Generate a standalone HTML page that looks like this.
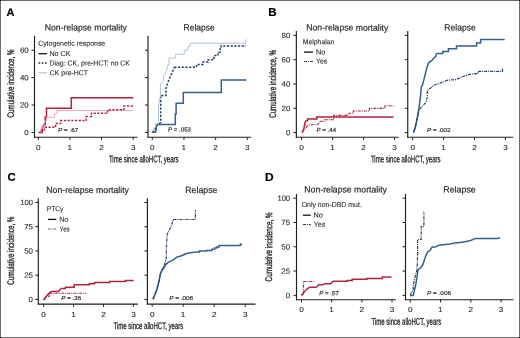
<!DOCTYPE html>
<html><head><meta charset="utf-8"><style>html,body{margin:0;padding:0;background:#fff;width:520px;height:338px;overflow:hidden}svg{display:block;font-family:"Liberation Sans",sans-serif;will-change:transform}</style></head>
<body><svg width="520" height="338" viewBox="0 0 520 338" font-family="'Liberation Sans', sans-serif">
<rect x="0" y="0" width="520" height="338" fill="#fff"/>
<line x1="34.50" y1="35.70" x2="34.50" y2="137.70" stroke="#1e1e1e" stroke-width="1.15" />
<line x1="34.00" y1="137.20" x2="137.40" y2="137.20" stroke="#1e1e1e" stroke-width="1.1" />
<line x1="31.50" y1="132.40" x2="34.50" y2="132.40" stroke="#1e1e1e" stroke-width="1.0" />
<line x1="31.50" y1="105.00" x2="34.50" y2="105.00" stroke="#1e1e1e" stroke-width="1.0" />
<line x1="31.50" y1="77.60" x2="34.50" y2="77.60" stroke="#1e1e1e" stroke-width="1.0" />
<line x1="31.50" y1="50.20" x2="34.50" y2="50.20" stroke="#1e1e1e" stroke-width="1.0" />
<line x1="38.30" y1="137.20" x2="38.30" y2="139.90" stroke="#1e1e1e" stroke-width="1.0" />
<line x1="69.95" y1="137.20" x2="69.95" y2="139.90" stroke="#1e1e1e" stroke-width="1.0" />
<line x1="101.60" y1="137.20" x2="101.60" y2="139.90" stroke="#1e1e1e" stroke-width="1.0" />
<line x1="133.25" y1="137.20" x2="133.25" y2="139.90" stroke="#1e1e1e" stroke-width="1.0" />
<line x1="148.00" y1="35.70" x2="148.00" y2="137.70" stroke="#1e1e1e" stroke-width="1.15" />
<line x1="147.50" y1="137.20" x2="251.00" y2="137.20" stroke="#1e1e1e" stroke-width="1.1" />
<line x1="145.00" y1="132.40" x2="148.00" y2="132.40" stroke="#1e1e1e" stroke-width="1.0" />
<line x1="145.00" y1="105.00" x2="148.00" y2="105.00" stroke="#1e1e1e" stroke-width="1.0" />
<line x1="145.00" y1="77.60" x2="148.00" y2="77.60" stroke="#1e1e1e" stroke-width="1.0" />
<line x1="145.00" y1="50.20" x2="148.00" y2="50.20" stroke="#1e1e1e" stroke-width="1.0" />
<line x1="152.30" y1="137.20" x2="152.30" y2="139.90" stroke="#1e1e1e" stroke-width="1.0" />
<line x1="183.97" y1="137.20" x2="183.97" y2="139.90" stroke="#1e1e1e" stroke-width="1.0" />
<line x1="215.64" y1="137.20" x2="215.64" y2="139.90" stroke="#1e1e1e" stroke-width="1.0" />
<line x1="247.31" y1="137.20" x2="247.31" y2="139.90" stroke="#1e1e1e" stroke-width="1.0" />
<line x1="296.35" y1="31.10" x2="296.35" y2="137.80" stroke="#1e1e1e" stroke-width="1.15" />
<line x1="295.85" y1="137.30" x2="398.60" y2="137.30" stroke="#1e1e1e" stroke-width="1.1" />
<line x1="293.35" y1="132.60" x2="296.35" y2="132.60" stroke="#1e1e1e" stroke-width="1.0" />
<line x1="293.35" y1="108.30" x2="296.35" y2="108.30" stroke="#1e1e1e" stroke-width="1.0" />
<line x1="293.35" y1="84.00" x2="296.35" y2="84.00" stroke="#1e1e1e" stroke-width="1.0" />
<line x1="293.35" y1="59.70" x2="296.35" y2="59.70" stroke="#1e1e1e" stroke-width="1.0" />
<line x1="293.35" y1="35.40" x2="296.35" y2="35.40" stroke="#1e1e1e" stroke-width="1.0" />
<line x1="301.60" y1="137.30" x2="301.60" y2="140.00" stroke="#1e1e1e" stroke-width="1.0" />
<line x1="332.60" y1="137.30" x2="332.60" y2="140.00" stroke="#1e1e1e" stroke-width="1.0" />
<line x1="363.60" y1="137.30" x2="363.60" y2="140.00" stroke="#1e1e1e" stroke-width="1.0" />
<line x1="394.60" y1="137.30" x2="394.60" y2="140.00" stroke="#1e1e1e" stroke-width="1.0" />
<line x1="407.75" y1="31.10" x2="407.75" y2="137.80" stroke="#1e1e1e" stroke-width="1.15" />
<line x1="407.25" y1="137.30" x2="513.20" y2="137.30" stroke="#1e1e1e" stroke-width="1.1" />
<line x1="404.75" y1="132.60" x2="407.75" y2="132.60" stroke="#1e1e1e" stroke-width="1.0" />
<line x1="404.75" y1="108.30" x2="407.75" y2="108.30" stroke="#1e1e1e" stroke-width="1.0" />
<line x1="404.75" y1="84.00" x2="407.75" y2="84.00" stroke="#1e1e1e" stroke-width="1.0" />
<line x1="404.75" y1="59.70" x2="407.75" y2="59.70" stroke="#1e1e1e" stroke-width="1.0" />
<line x1="404.75" y1="35.40" x2="407.75" y2="35.40" stroke="#1e1e1e" stroke-width="1.0" />
<line x1="412.70" y1="137.30" x2="412.70" y2="140.00" stroke="#1e1e1e" stroke-width="1.0" />
<line x1="443.60" y1="137.30" x2="443.60" y2="140.00" stroke="#1e1e1e" stroke-width="1.0" />
<line x1="474.50" y1="137.30" x2="474.50" y2="140.00" stroke="#1e1e1e" stroke-width="1.0" />
<line x1="505.40" y1="137.30" x2="505.40" y2="140.00" stroke="#1e1e1e" stroke-width="1.0" />
<line x1="38.30" y1="198.20" x2="38.30" y2="304.60" stroke="#1e1e1e" stroke-width="1.15" />
<line x1="37.80" y1="304.10" x2="137.90" y2="304.10" stroke="#1e1e1e" stroke-width="1.1" />
<line x1="35.30" y1="299.40" x2="38.30" y2="299.40" stroke="#1e1e1e" stroke-width="1.0" />
<line x1="35.30" y1="275.17" x2="38.30" y2="275.17" stroke="#1e1e1e" stroke-width="1.0" />
<line x1="35.30" y1="250.95" x2="38.30" y2="250.95" stroke="#1e1e1e" stroke-width="1.0" />
<line x1="35.30" y1="226.72" x2="38.30" y2="226.72" stroke="#1e1e1e" stroke-width="1.0" />
<line x1="35.30" y1="202.50" x2="38.30" y2="202.50" stroke="#1e1e1e" stroke-width="1.0" />
<line x1="43.60" y1="304.10" x2="43.60" y2="306.80" stroke="#1e1e1e" stroke-width="1.0" />
<line x1="73.55" y1="304.10" x2="73.55" y2="306.80" stroke="#1e1e1e" stroke-width="1.0" />
<line x1="103.50" y1="304.10" x2="103.50" y2="306.80" stroke="#1e1e1e" stroke-width="1.0" />
<line x1="133.45" y1="304.10" x2="133.45" y2="306.80" stroke="#1e1e1e" stroke-width="1.0" />
<line x1="147.40" y1="198.20" x2="147.40" y2="304.60" stroke="#1e1e1e" stroke-width="1.15" />
<line x1="146.90" y1="304.10" x2="255.50" y2="304.10" stroke="#1e1e1e" stroke-width="1.1" />
<line x1="144.40" y1="299.40" x2="147.40" y2="299.40" stroke="#1e1e1e" stroke-width="1.0" />
<line x1="144.40" y1="275.17" x2="147.40" y2="275.17" stroke="#1e1e1e" stroke-width="1.0" />
<line x1="144.40" y1="250.95" x2="147.40" y2="250.95" stroke="#1e1e1e" stroke-width="1.0" />
<line x1="144.40" y1="226.72" x2="147.40" y2="226.72" stroke="#1e1e1e" stroke-width="1.0" />
<line x1="144.40" y1="202.50" x2="147.40" y2="202.50" stroke="#1e1e1e" stroke-width="1.0" />
<line x1="152.20" y1="304.10" x2="152.20" y2="306.80" stroke="#1e1e1e" stroke-width="1.0" />
<line x1="183.20" y1="304.10" x2="183.20" y2="306.80" stroke="#1e1e1e" stroke-width="1.0" />
<line x1="214.20" y1="304.10" x2="214.20" y2="306.80" stroke="#1e1e1e" stroke-width="1.0" />
<line x1="245.20" y1="304.10" x2="245.20" y2="306.80" stroke="#1e1e1e" stroke-width="1.0" />
<line x1="296.50" y1="193.90" x2="296.50" y2="300.20" stroke="#1e1e1e" stroke-width="1.15" />
<line x1="296.00" y1="299.70" x2="395.70" y2="299.70" stroke="#1e1e1e" stroke-width="1.1" />
<line x1="293.50" y1="295.35" x2="296.50" y2="295.35" stroke="#1e1e1e" stroke-width="1.0" />
<line x1="293.50" y1="271.06" x2="296.50" y2="271.06" stroke="#1e1e1e" stroke-width="1.0" />
<line x1="293.50" y1="246.78" x2="296.50" y2="246.78" stroke="#1e1e1e" stroke-width="1.0" />
<line x1="293.50" y1="222.49" x2="296.50" y2="222.49" stroke="#1e1e1e" stroke-width="1.0" />
<line x1="293.50" y1="198.20" x2="296.50" y2="198.20" stroke="#1e1e1e" stroke-width="1.0" />
<line x1="301.50" y1="299.70" x2="301.50" y2="302.40" stroke="#1e1e1e" stroke-width="1.0" />
<line x1="331.67" y1="299.70" x2="331.67" y2="302.40" stroke="#1e1e1e" stroke-width="1.0" />
<line x1="361.84" y1="299.70" x2="361.84" y2="302.40" stroke="#1e1e1e" stroke-width="1.0" />
<line x1="392.01" y1="299.70" x2="392.01" y2="302.40" stroke="#1e1e1e" stroke-width="1.0" />
<line x1="405.50" y1="193.90" x2="405.50" y2="300.20" stroke="#1e1e1e" stroke-width="1.15" />
<line x1="405.00" y1="299.70" x2="513.50" y2="299.70" stroke="#1e1e1e" stroke-width="1.1" />
<line x1="402.50" y1="295.35" x2="405.50" y2="295.35" stroke="#1e1e1e" stroke-width="1.0" />
<line x1="402.50" y1="271.06" x2="405.50" y2="271.06" stroke="#1e1e1e" stroke-width="1.0" />
<line x1="402.50" y1="246.78" x2="405.50" y2="246.78" stroke="#1e1e1e" stroke-width="1.0" />
<line x1="402.50" y1="222.49" x2="405.50" y2="222.49" stroke="#1e1e1e" stroke-width="1.0" />
<line x1="402.50" y1="198.20" x2="405.50" y2="198.20" stroke="#1e1e1e" stroke-width="1.0" />
<line x1="410.20" y1="299.70" x2="410.20" y2="302.40" stroke="#1e1e1e" stroke-width="1.0" />
<line x1="440.50" y1="299.70" x2="440.50" y2="302.40" stroke="#1e1e1e" stroke-width="1.0" />
<line x1="470.80" y1="299.70" x2="470.80" y2="302.40" stroke="#1e1e1e" stroke-width="1.0" />
<line x1="501.10" y1="299.70" x2="501.10" y2="302.40" stroke="#1e1e1e" stroke-width="1.0" />
<line x1="38.50" y1="53.70" x2="46.80" y2="53.70" stroke="#111" stroke-width="1.3" />
<line x1="38.60" y1="63.00" x2="46.60" y2="63.00" stroke="#222" stroke-width="1.3" stroke-dasharray="1.6 1.6"/>
<line x1="38.50" y1="72.80" x2="47.00" y2="72.80" stroke="#aaa" stroke-width="0.8" />
<line x1="304.00" y1="52.10" x2="313.00" y2="52.10" stroke="#111" stroke-width="1.3" />
<line x1="304.00" y1="61.60" x2="313.00" y2="61.60" stroke="#222" stroke-width="0.9" stroke-dasharray="3 1 1 1"/>
<line x1="48.00" y1="219.40" x2="56.30" y2="219.40" stroke="#111" stroke-width="1.3" />
<line x1="48.00" y1="229.00" x2="56.30" y2="229.00" stroke="#666" stroke-width="1.2" stroke-dasharray="2.6 0.9 1 0.9"/>
<line x1="303.00" y1="215.20" x2="310.80" y2="215.20" stroke="#111" stroke-width="1.3" />
<line x1="303.00" y1="224.50" x2="310.80" y2="224.50" stroke="#222" stroke-width="0.9" stroke-dasharray="3 1 1 1"/>
<path d="M38.8 132.4H42.4V127.0H43.5V124.5H45.2V117.0H46.5V108.2H71.3V97.8H133.3V97.8" fill="none" stroke="#b0223f" stroke-width="1.5" stroke-linejoin="miter" />
<path d="M38.8 132.4H41.5V128.0H43.0V124.0H44.5V121.0H46.5V117.3H54.5V113.8H56.8V110.6H133.3V110.6" fill="none" stroke="#eaa9bb" stroke-width="1.0" stroke-linejoin="miter" />
<path d="M38.8 132.4H41.5V130.0H44.5V127.3H55.5V123.4H60.6V120.5H86.2V116.6H91.5V113.2H107.7V109.8H123.8V105.9H133.3V105.9" fill="none" stroke="#b0223f" stroke-width="1.5" stroke-dasharray="2.2 1.5" stroke-linejoin="miter" />
<path d="M152.1 132.2H155.5V129.7H156.3V124.4H175.3V114.0H176.1V103.2H183.3V92.4H221.3V80.0H246.5V80.0" fill="none" stroke="#365f8b" stroke-width="1.5" stroke-linejoin="miter" />
<path d="M152.3 132.3 L155.0 128.5 L157.0 125.5 L158.5 124.0 L160.7 122.5 L160.7 95.4 L166.0 95.4 L166.0 88.0 L168.0 82.0 L169.3 79.0 L171.0 75.0 L173.0 70.6 L174.3 67.3 M174.3 67.3H196.5V64.6H203.0V62.1H208.0V59.7H214.0V55.5H218.0V52.2H220.0V48.9H221.0V45.9H246.0V45.9" fill="none" stroke="#253f66" stroke-width="1.5" stroke-dasharray="2.2 1.5" stroke-linejoin="miter" />
<path d="M152.3 132.3 L155.0 128.0 L157.0 124.0 L158.5 121.3 L158.5 106.0 L160.4 96.0 L160.4 83.3 L163.6 80.9 L163.6 76.0 L164.8 74.4 L166.6 70.2 L167.8 64.9 L169.0 64.9 L169.0 58.1 M169.0 58.1H175.7V54.3H184.2V50.9H186.3V49.4H188.0V46.5H190.1V43.2H245.7V39.5H246.2V39.5" fill="none" stroke="#a9bcd4" stroke-width="0.9" stroke-linejoin="miter" />
<path d="M302.0 132.5 L303.5 130.0 L305.0 123.0 L305.5 120.8 M305.5 120.8H307.5V119.0H316.8V117.0H393.6V117.0" fill="none" stroke="#b0223f" stroke-width="1.5" stroke-linejoin="miter" />
<path d="M302.0 132.5 L305.0 129.0 L307.0 126.5 L309.0 125.0 L310.6 124.8 L317.5 124.8 L320.2 121.3 M320.2 121.3H324.8V119.8H333.7V115.4H348.0V113.3H353.3V111.0H369.4V108.4H385.0V105.8H393.5V105.8" fill="none" stroke="#b0223f" stroke-width="1.1" stroke-dasharray="3 1 1 1" stroke-linejoin="miter" />
<path d="M413.6 132.5 L415.2 128.0 L417.2 118.3 L418.8 108.8 L420.4 97.6 L421.2 87.2 L422.4 85.2 L424.4 77.6 L426.8 68.0 L428.4 63.2 L430.0 61.6 L432.4 60.0 L434.0 57.6 L435.6 56.8 L436.4 53.6 M436.4 53.6H442.8V51.4H448.4V48.7H456.5V45.9H476.6V43.0H480.6V39.6H504.7V39.6" fill="none" stroke="#365f8b" stroke-width="1.5" stroke-linejoin="miter" />
<path d="M413.6 132.5 L416.0 124.0 L418.8 110.4 L422.0 106.5 L426.0 102.4 L427.3 97.0 L427.3 90.4 L429.2 89.2 L434.0 85.2 L442.0 82.4 L447.6 80.2 L456.4 79.6 L460.0 77.6 L465.0 75.8 L470.0 74.3 L474.4 73.6 M474.4 73.6H478.1V71.4H502.5V68.8H503.0V68.8" fill="none" stroke="#253f66" stroke-width="1.2" stroke-dasharray="3 1 1 1" stroke-linejoin="miter" />
<path d="M43.5 300.0 L47.7 294.6 L49.2 293.1 L51.2 291.5 L58.5 291.5 L60.8 288.6 M60.8 288.6H65.4V287.2H74.2V284.8H89.2V283.8H94.6V282.4H109.4V281.6H125.4V280.5H133.6V280.5" fill="none" stroke="#b0223f" stroke-width="1.5" stroke-linejoin="miter" />
<path d="M43.5 300.0 L46.0 297.0 L49.2 296.5 L49.2 293.2 M49.2 293.2H86.5V293.2" fill="none" stroke="#b0223f" stroke-width="1.1" stroke-dasharray="3 1 1 1" stroke-linejoin="miter" />
<path d="M153.0 299.2 L156.7 290.0 L158.9 281.8 L160.4 273.7 L161.8 270.7 L164.0 267.8 L165.5 264.8 L167.8 262.6 L170.7 261.1 L173.7 259.6 L177.4 256.7 L180.1 256.2 L185.0 254.2 L187.7 253.2 L192.0 252.6 L196.0 252.1 M196.0 252.1H199.5V251.0H206.4V250.4H212.1V249.3H214.5V248.1H216.8V247.0H219.0V245.5H240.4V244.3H242.1V244.3" fill="none" stroke="#365f8b" stroke-width="1.5" stroke-linejoin="miter" />
<path d="M153.0 299.2 L156.7 290.0 L158.9 281.8 L160.6 273.7 L162.8 268.0 L164.8 264.0 L166.3 258.0 L166.3 250.0 L166.8 240.0 L167.0 235.7 L168.5 231.0 L170.5 228.0 L171.5 225.0 L173.4 219.5 M173.4 219.5H195.4V210.3H195.6V210.3" fill="none" stroke="#253f66" stroke-width="1.2" stroke-dasharray="3 1 1 1" stroke-linejoin="miter" />
<path d="M301.5 295.2 L303.8 292.5 L305.7 290.2 L308.0 288.3 L309.5 287.2 L316.1 287.2 L318.8 284.8 L322.6 284.8 L324.5 283.7 L331.0 283.7 L332.6 281.3 M332.6 281.3H347.2V280.5H352.2V279.2H366.9V278.4H382.3V277.0H391.5V277.0" fill="none" stroke="#b0223f" stroke-width="1.5" stroke-linejoin="miter" />
<path d="M301.5 295.2 L303.4 293.7 M303.4 293.7H303.4V281.5H313.8V281.5" fill="none" stroke="#b0223f" stroke-width="1.1" stroke-dasharray="3 1 1 1" stroke-linejoin="miter" />
<path d="M410.0 295.4 L413.2 295.4 L414.3 291.0 L415.6 285.5 L417.2 276.0 L418.0 269.6 L420.4 268.0 L422.8 264.8 L424.4 260.0 L426.0 255.2 L427.6 252.0 L430.0 250.4 L432.0 247.3 L436.0 246.7 L439.0 245.2 L450.0 244.0 L455.0 243.0 L462.0 242.2 L470.0 240.7 L474.0 239.2 L475.0 238.5 L498.2 238.5 L500.0 237.3" fill="none" stroke="#365f8b" stroke-width="1.5" stroke-linejoin="miter" />
<path d="M410.2 295.2 L413.0 290.0 L414.0 281.1 L417.0 270.0 L417.6 255.0 M417.6 255.0H417.6V239.5H421.2V226.3H423.9V212.3H424.1V212.3" fill="none" stroke="#253f66" stroke-width="1.2" stroke-dasharray="3 1 1 1" stroke-linejoin="miter" />
<text transform="matrix(1.0400 0.0005 0 1 24.29 135.02)" font-size="7.6" fill="#2b2b2b" stroke="#2b2b2b" stroke-width="0.12">0</text>
<text transform="matrix(1.0400 0.0005 0 1 19.94 107.62)" font-size="7.6" fill="#2b2b2b" stroke="#2b2b2b" stroke-width="0.12">20</text>
<text transform="matrix(1.0400 0.0005 0 1 19.94 80.22)" font-size="7.6" fill="#2b2b2b" stroke="#2b2b2b" stroke-width="0.12">40</text>
<text transform="matrix(1.0400 0.0005 0 1 19.94 52.82)" font-size="7.6" fill="#2b2b2b" stroke="#2b2b2b" stroke-width="0.12">60</text>
<text transform="matrix(1.0800 0.0005 0 1 36.00 149.72)" font-size="7.6" fill="#2b2b2b" stroke="#2b2b2b" stroke-width="0.12">0</text>
<text transform="matrix(1.0800 0.0005 0 1 67.53 149.72)" font-size="7.6" fill="#2b2b2b" stroke="#2b2b2b" stroke-width="0.12">1</text>
<text transform="matrix(1.0800 0.0005 0 1 99.30 149.76)" font-size="7.6" fill="#2b2b2b" stroke="#2b2b2b" stroke-width="0.12">2</text>
<text transform="matrix(1.0800 0.0005 0 1 130.99 149.72)" font-size="7.6" fill="#2b2b2b" stroke="#2b2b2b" stroke-width="0.12">3</text>
<text transform="matrix(1.0800 0.0005 0 1 150.00 149.72)" font-size="7.6" fill="#2b2b2b" stroke="#2b2b2b" stroke-width="0.12">0</text>
<text transform="matrix(1.0800 0.0005 0 1 181.55 149.72)" font-size="7.6" fill="#2b2b2b" stroke="#2b2b2b" stroke-width="0.12">1</text>
<text transform="matrix(1.0800 0.0005 0 1 213.34 149.76)" font-size="7.6" fill="#2b2b2b" stroke="#2b2b2b" stroke-width="0.12">2</text>
<text transform="matrix(1.0800 0.0005 0 1 245.05 149.72)" font-size="7.6" fill="#2b2b2b" stroke="#2b2b2b" stroke-width="0.12">3</text>
<text transform="matrix(1.0400 0.0005 0 1 285.89 135.22)" font-size="7.6" fill="#2b2b2b" stroke="#2b2b2b" stroke-width="0.12">0</text>
<text transform="matrix(1.0400 0.0005 0 1 281.54 110.92)" font-size="7.6" fill="#2b2b2b" stroke="#2b2b2b" stroke-width="0.12">20</text>
<text transform="matrix(1.0400 0.0005 0 1 281.54 86.62)" font-size="7.6" fill="#2b2b2b" stroke="#2b2b2b" stroke-width="0.12">40</text>
<text transform="matrix(1.0400 0.0005 0 1 281.54 62.32)" font-size="7.6" fill="#2b2b2b" stroke="#2b2b2b" stroke-width="0.12">60</text>
<text transform="matrix(1.0400 0.0005 0 1 281.54 38.02)" font-size="7.6" fill="#2b2b2b" stroke="#2b2b2b" stroke-width="0.12">80</text>
<text transform="matrix(1.0800 0.0005 0 1 299.30 149.82)" font-size="7.6" fill="#2b2b2b" stroke="#2b2b2b" stroke-width="0.12">0</text>
<text transform="matrix(1.0800 0.0005 0 1 330.18 149.82)" font-size="7.6" fill="#2b2b2b" stroke="#2b2b2b" stroke-width="0.12">1</text>
<text transform="matrix(1.0800 0.0005 0 1 361.30 149.86)" font-size="7.6" fill="#2b2b2b" stroke="#2b2b2b" stroke-width="0.12">2</text>
<text transform="matrix(1.0800 0.0005 0 1 392.34 149.82)" font-size="7.6" fill="#2b2b2b" stroke="#2b2b2b" stroke-width="0.12">3</text>
<text transform="matrix(1.0800 0.0005 0 1 410.40 149.82)" font-size="7.6" fill="#2b2b2b" stroke="#2b2b2b" stroke-width="0.12">0</text>
<text transform="matrix(1.0800 0.0005 0 1 441.18 149.82)" font-size="7.6" fill="#2b2b2b" stroke="#2b2b2b" stroke-width="0.12">1</text>
<text transform="matrix(1.0800 0.0005 0 1 472.20 149.86)" font-size="7.6" fill="#2b2b2b" stroke="#2b2b2b" stroke-width="0.12">2</text>
<text transform="matrix(1.0800 0.0005 0 1 503.14 149.82)" font-size="7.6" fill="#2b2b2b" stroke="#2b2b2b" stroke-width="0.12">3</text>
<text transform="matrix(1.0400 0.0005 0 1 28.49 302.02)" font-size="7.6" fill="#2b2b2b" stroke="#2b2b2b" stroke-width="0.12">0</text>
<text transform="matrix(1.0400 0.0005 0 1 24.14 277.80)" font-size="7.6" fill="#2b2b2b" stroke="#2b2b2b" stroke-width="0.12">25</text>
<text transform="matrix(1.0400 0.0005 0 1 24.14 253.57)" font-size="7.6" fill="#2b2b2b" stroke="#2b2b2b" stroke-width="0.12">50</text>
<text transform="matrix(1.0400 0.0005 0 1 24.14 229.31)" font-size="7.6" fill="#2b2b2b" stroke="#2b2b2b" stroke-width="0.12">75</text>
<text transform="matrix(1.0000 0.0005 0 1 20.21 205.12)" font-size="7.6" fill="#2b2b2b" stroke="#2b2b2b" stroke-width="0.12">100</text>
<text transform="matrix(1.0800 0.0005 0 1 41.30 316.62)" font-size="7.6" fill="#2b2b2b" stroke="#2b2b2b" stroke-width="0.12">0</text>
<text transform="matrix(1.0800 0.0005 0 1 71.13 316.62)" font-size="7.6" fill="#2b2b2b" stroke="#2b2b2b" stroke-width="0.12">1</text>
<text transform="matrix(1.0800 0.0005 0 1 101.20 316.66)" font-size="7.6" fill="#2b2b2b" stroke="#2b2b2b" stroke-width="0.12">2</text>
<text transform="matrix(1.0800 0.0005 0 1 131.19 316.62)" font-size="7.6" fill="#2b2b2b" stroke="#2b2b2b" stroke-width="0.12">3</text>
<text transform="matrix(1.0800 0.0005 0 1 149.90 316.62)" font-size="7.6" fill="#2b2b2b" stroke="#2b2b2b" stroke-width="0.12">0</text>
<text transform="matrix(1.0800 0.0005 0 1 180.78 316.62)" font-size="7.6" fill="#2b2b2b" stroke="#2b2b2b" stroke-width="0.12">1</text>
<text transform="matrix(1.0800 0.0005 0 1 211.90 316.66)" font-size="7.6" fill="#2b2b2b" stroke="#2b2b2b" stroke-width="0.12">2</text>
<text transform="matrix(1.0800 0.0005 0 1 242.94 316.62)" font-size="7.6" fill="#2b2b2b" stroke="#2b2b2b" stroke-width="0.12">3</text>
<text transform="matrix(1.0400 0.0005 0 1 285.69 297.97)" font-size="7.6" fill="#2b2b2b" stroke="#2b2b2b" stroke-width="0.12">0</text>
<text transform="matrix(1.0400 0.0005 0 1 281.34 273.68)" font-size="7.6" fill="#2b2b2b" stroke="#2b2b2b" stroke-width="0.12">25</text>
<text transform="matrix(1.0400 0.0005 0 1 281.34 249.40)" font-size="7.6" fill="#2b2b2b" stroke="#2b2b2b" stroke-width="0.12">50</text>
<text transform="matrix(1.0400 0.0005 0 1 281.34 225.07)" font-size="7.6" fill="#2b2b2b" stroke="#2b2b2b" stroke-width="0.12">75</text>
<text transform="matrix(1.0000 0.0005 0 1 277.41 200.82)" font-size="7.6" fill="#2b2b2b" stroke="#2b2b2b" stroke-width="0.12">100</text>
<text transform="matrix(1.0800 0.0005 0 1 299.20 312.22)" font-size="7.6" fill="#2b2b2b" stroke="#2b2b2b" stroke-width="0.12">0</text>
<text transform="matrix(1.0800 0.0005 0 1 329.25 312.22)" font-size="7.6" fill="#2b2b2b" stroke="#2b2b2b" stroke-width="0.12">1</text>
<text transform="matrix(1.0800 0.0005 0 1 359.54 312.26)" font-size="7.6" fill="#2b2b2b" stroke="#2b2b2b" stroke-width="0.12">2</text>
<text transform="matrix(1.0800 0.0005 0 1 389.75 312.22)" font-size="7.6" fill="#2b2b2b" stroke="#2b2b2b" stroke-width="0.12">3</text>
<text transform="matrix(1.0800 0.0005 0 1 407.90 312.22)" font-size="7.6" fill="#2b2b2b" stroke="#2b2b2b" stroke-width="0.12">0</text>
<text transform="matrix(1.0800 0.0005 0 1 438.08 312.22)" font-size="7.6" fill="#2b2b2b" stroke="#2b2b2b" stroke-width="0.12">1</text>
<text transform="matrix(1.0800 0.0005 0 1 468.50 312.26)" font-size="7.6" fill="#2b2b2b" stroke="#2b2b2b" stroke-width="0.12">2</text>
<text transform="matrix(1.0800 0.0005 0 1 498.84 312.22)" font-size="7.6" fill="#2b2b2b" stroke="#2b2b2b" stroke-width="0.12">3</text>
<text transform="matrix(0.9613 0.0005 0 1 44.81 30.50)" font-size="9" fill="#2b2b2b" stroke="#2b2b2b" stroke-width="0.2">Non-relapse mortality</text>
<text transform="matrix(0.9601 0.0005 0 1 306.31 30.60)" font-size="9" fill="#2b2b2b" stroke="#2b2b2b" stroke-width="0.2">Non-relapse mortality</text>
<text transform="matrix(0.9672 0.0005 0 1 46.30 193.00)" font-size="9" fill="#2b2b2b" stroke="#2b2b2b" stroke-width="0.2">Non-relapse mortality</text>
<text transform="matrix(0.9672 0.0005 0 1 304.30 192.40)" font-size="9" fill="#2b2b2b" stroke="#2b2b2b" stroke-width="0.2">Non-relapse mortality</text>
<text transform="matrix(0.9510 0.0005 0 1 183.52 30.50)" font-size="9" fill="#2b2b2b" stroke="#2b2b2b" stroke-width="0.2">Relapse</text>
<text transform="matrix(0.9510 0.0005 0 1 444.32 30.50)" font-size="9" fill="#2b2b2b" stroke="#2b2b2b" stroke-width="0.2">Relapse</text>
<text transform="matrix(0.9730 0.0005 0 1 185.30 193.00)" font-size="9" fill="#2b2b2b" stroke="#2b2b2b" stroke-width="0.2">Relapse</text>
<text transform="matrix(0.9856 0.0005 0 1 443.29 192.60)" font-size="9" fill="#2b2b2b" stroke="#2b2b2b" stroke-width="0.2">Relapse</text>
<text transform="matrix(1.0055 0.0005 0 1 6.47 15.90)" font-size="11" fill="#000" stroke="#000" stroke-width="0.2" font-weight="bold">A</text>
<text transform="matrix(1.0581 0.0005 0 1 268.19 16.00)" font-size="11" fill="#000" stroke="#000" stroke-width="0.2" font-weight="bold">B</text>
<text transform="matrix(1.0210 0.0005 0 1 7.55 180.80)" font-size="11" fill="#000" stroke="#000" stroke-width="0.2" font-weight="bold">C</text>
<text transform="matrix(1.0879 0.0005 0 1 264.96 180.60)" font-size="11" fill="#000" stroke="#000" stroke-width="0.2" font-weight="bold">D</text>
<text transform="matrix(0.6284 0.0005 0 1 108.88 162.20)" font-size="9.6" fill="#222" stroke="#222" stroke-width="0.28">Time since alloHCT, years</text>
<text transform="matrix(0.6284 0.0005 0 1 370.88 162.20)" font-size="9.6" fill="#222" stroke="#222" stroke-width="0.28">Time since alloHCT, years</text>
<text transform="matrix(0.6302 0.0005 0 1 113.38 328.90)" font-size="9.6" fill="#222" stroke="#222" stroke-width="0.28">Time since alloHCT, years</text>
<text transform="matrix(0.6302 0.0005 0 1 371.38 324.70)" font-size="9.6" fill="#222" stroke="#222" stroke-width="0.28">Time since alloHCT, years</text>
<text transform="translate(14.00 117.41) rotate(-90) matrix(0.6398 0.0005 0 1 0 0)" font-size="9.7" fill="#1c1c1c" stroke="#1c1c1c" stroke-width="0.32">Cumulative incidence, %</text>
<text transform="translate(276.00 117.81) rotate(-90) matrix(0.6398 0.0005 0 1 0 0)" font-size="9.7" fill="#1c1c1c" stroke="#1c1c1c" stroke-width="0.32">Cumulative incidence, %</text>
<text transform="translate(13.90 284.71) rotate(-90) matrix(0.6436 0.0005 0 1 0 0)" font-size="9.7" fill="#1c1c1c" stroke="#1c1c1c" stroke-width="0.32">Cumulative incidence, %</text>
<text transform="translate(272.10 281.42) rotate(-90) matrix(0.6503 0.0005 0 1 0 0)" font-size="9.7" fill="#1c1c1c" stroke="#1c1c1c" stroke-width="0.32">Cumulative incidence, %</text>
<text transform="matrix(1.0648 0.0005 0 1 58.11 131.90)" font-size="5.9" fill="#333" stroke="#333" stroke-width="0.2"><tspan font-style="italic">P</tspan> = .67</text>
<text transform="matrix(1.0363 0.0005 0 1 168.02 131.50)" font-size="5.9" fill="#333" stroke="#333" stroke-width="0.2"><tspan font-style="italic">P</tspan> = .053</text>
<text transform="matrix(1.0310 0.0005 0 1 316.62 131.90)" font-size="5.9" fill="#333" stroke="#333" stroke-width="0.2"><tspan font-style="italic">P</tspan> = .44</text>
<text transform="matrix(1.0714 0.0005 0 1 426.91 131.50)" font-size="5.9" fill="#333" stroke="#333" stroke-width="0.2"><tspan font-style="italic">P</tspan> = .002</text>
<text transform="matrix(1.0539 0.0005 0 1 61.31 299.50)" font-size="5.9" fill="#333" stroke="#333" stroke-width="0.2"><tspan font-style="italic">P</tspan> = .36</text>
<text transform="matrix(1.0685 0.0005 0 1 169.31 299.50)" font-size="5.9" fill="#333" stroke="#333" stroke-width="0.2"><tspan font-style="italic">P</tspan> = .008</text>
<text transform="matrix(1.0322 0.0005 0 1 319.32 295.30)" font-size="5.9" fill="#333" stroke="#333" stroke-width="0.2"><tspan font-style="italic">P</tspan> = .57</text>
<text transform="matrix(1.0777 0.0005 0 1 427.11 295.30)" font-size="5.9" fill="#333" stroke="#333" stroke-width="0.2"><tspan font-style="italic">P</tspan> = .006</text>
<text transform="matrix(0.9641 0.0005 0 1 38.15 45.80)" font-size="7.2" fill="#2b2b2b" stroke="#2b2b2b" stroke-width="0.1">Cytogenetic response</text>
<text transform="matrix(0.9990 0.0005 0 1 49.42 56.00)" font-size="7.2" fill="#2b2b2b" stroke="#2b2b2b" stroke-width="0.1">No CK</text>
<text transform="matrix(0.9645 0.0005 0 1 49.44 65.50)" font-size="7.2" fill="#2b2b2b" stroke="#2b2b2b" stroke-width="0.1">Diag: CK, pre-HCT: no CK</text>
<text transform="matrix(0.9720 0.0005 0 1 49.65 75.30)" font-size="7.2" fill="#2b2b2b" stroke="#2b2b2b" stroke-width="0.1">CK pre-HCT</text>
<text transform="matrix(0.9539 0.0005 0 1 302.75 44.20)" font-size="7.2" fill="#2b2b2b" stroke="#2b2b2b" stroke-width="0.1">Melphalan</text>
<text transform="matrix(1.0177 0.0005 0 1 315.91 54.40)" font-size="7.2" fill="#2b2b2b" stroke="#2b2b2b" stroke-width="0.1">No</text>
<text transform="matrix(0.9466 0.0005 0 1 316.10 63.60)" font-size="7.2" fill="#2b2b2b" stroke="#2b2b2b" stroke-width="0.1">Yes</text>
<text transform="matrix(0.9298 0.0005 0 1 46.76 211.30)" font-size="7.2" fill="#2b2b2b" stroke="#2b2b2b" stroke-width="0.1">PTCy</text>
<text transform="matrix(0.9818 0.0005 0 1 59.23 221.80)" font-size="7.2" fill="#2b2b2b" stroke="#2b2b2b" stroke-width="0.1">No</text>
<text transform="matrix(0.8581 0.0005 0 1 59.61 231.40)" font-size="7.2" fill="#2b2b2b" stroke="#2b2b2b" stroke-width="0.1">Yes</text>
<text transform="matrix(0.9639 0.0005 0 1 301.65 207.00)" font-size="7.2" fill="#2b2b2b" stroke="#2b2b2b" stroke-width="0.1">Only non-DBD mut.</text>
<text transform="matrix(1.0177 0.0005 0 1 313.51 217.50)" font-size="7.2" fill="#2b2b2b" stroke="#2b2b2b" stroke-width="0.1">No</text>
<text transform="matrix(0.9643 0.0005 0 1 313.79 226.80)" font-size="7.2" fill="#2b2b2b" stroke="#2b2b2b" stroke-width="0.1">Yes</text>
<rect x="0.5" y="0.5" width="519" height="337" fill="none" stroke="#6b6b6b" stroke-width="1"/>
<rect x="0" y="0" width="1" height="1" fill="#1e1e1e"/><rect x="519" y="0" width="1" height="1" fill="#1e1e1e"/><rect x="0" y="337" width="1" height="1" fill="#1e1e1e"/><rect x="519" y="337" width="1" height="1" fill="#1e1e1e"/>
</svg></body></html>
